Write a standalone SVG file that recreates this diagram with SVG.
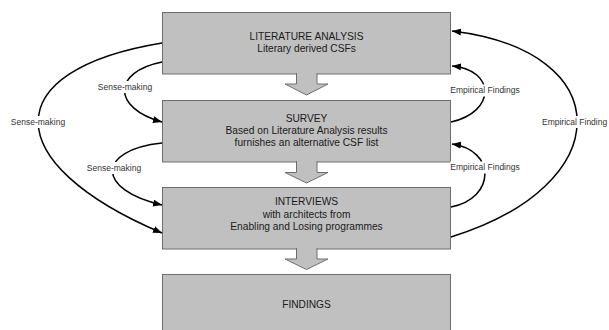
<svg xmlns="http://www.w3.org/2000/svg" width="609" height="330" viewBox="0 0 609 330">
  <style>
    .box { fill: #c0c0c0; stroke: #6e6e6e; stroke-width: 1; }
    .flow { fill: #c0c0c0; stroke: #6e6e6e; stroke-width: 1; }
    .title { font-family: "Liberation Sans", Arial, sans-serif; font-size: 10.2px; fill: #1a1a1a; text-anchor: middle; }
    .link { fill: none; stroke: #000; stroke-width: 1.5; }
    .lbl { font-family: "Liberation Sans", Arial, sans-serif; font-size: 8.5px; fill: #333; text-anchor: middle; }
    .bg { fill: #fff; }
  </style>
  <defs>
    <marker id="arrow" markerUnits="userSpaceOnUse" markerWidth="10" markerHeight="8" refX="9" refY="3.5" orient="auto">
      <path d="M0,0 L9,3.5 L0,7 z" fill="#000"/>
    </marker>
  </defs>
  <rect width="609" height="330" fill="#fff"/>

  <!-- process boxes with block arrows between them -->
  <g id="literature-analysis">
    <rect class="box" x="162.5" y="12.5" width="288" height="61.5"/>
    <text class="title" x="306.5" y="40">LITERATURE ANALYSIS</text>
    <text class="title" x="306.5" y="52">Literary derived CSFs</text>
  </g>
  <g id="survey">
    <rect class="box" x="162.5" y="100.5" width="288" height="61.5"/>
    <text class="title" x="306.5" y="122">SURVEY</text>
    <text class="title" x="306.5" y="134">Based on Literature Analysis results</text>
    <text class="title" x="306.5" y="146">furnishes an alternative CSF list</text>
  </g>
  <g id="interviews">
    <rect class="box" x="162.5" y="187.5" width="288" height="61.5"/>
    <text class="title" x="306.5" y="205">INTERVIEWS</text>
    <text class="title" x="306.5" y="217.5">with architects from</text>
    <text class="title" x="306.5" y="230">Enabling and Losing programmes</text>
  </g>
  <g id="findings">
    <rect class="box" x="162.5" y="274.5" width="288" height="62"/>
    <text class="title" x="306.5" y="308">FINDINGS</text>
  </g>

  <g id="flow-arrows">
    <path class="flow" d="M296.5,73 V84 H285 L306.5,95 L328,84 H317 V73"/>
    <path class="flow" d="M296.5,161 V172.5 H285 L306.5,183 L328,172.5 H317 V161"/>
    <path class="flow" d="M296.5,248 V259 H285 L306.5,269.5 L328,259 H317 V248"/>
  </g>

  <!-- feedback connectors -->
  <g id="connectors">
    <path class="link" d="M162,43 C -3,70 -3,163 162,233" marker-end="url(#arrow)"/>
    <path class="link" d="M162,62 C 112,72 112,108 162,122" marker-end="url(#arrow)"/>
    <path class="link" d="M162,143 C 96,150 96,190 162,205" marker-end="url(#arrow)"/>
    <path class="link" d="M451,122 C 496,112 496,70 452,66" marker-end="url(#arrow)"/>
    <path class="link" d="M451,207 C 496,198 496,150 452,144" marker-end="url(#arrow)"/>
    <path class="link" d="M451,237 C 619,185 619,51 452,31" marker-end="url(#arrow)"/>

    <rect class="bg" x="10" y="116" width="56" height="12"/>
    <text class="lbl" x="38" y="125">Sense-making</text>
    <rect class="bg" x="97" y="81" width="56" height="12"/>
    <text class="lbl" x="125" y="90">Sense-making</text>
    <rect class="bg" x="86" y="162" width="56" height="12"/>
    <text class="lbl" x="114" y="171">Sense-making</text>

    <rect class="bg" x="450" y="84.5" width="71" height="12"/>
    <text class="lbl" x="485" y="93">Empirical Findings</text>
    <rect class="bg" x="450" y="161.5" width="71" height="12"/>
    <text class="lbl" x="485" y="170">Empirical Findings</text>
    <rect class="bg" x="541" y="116" width="68" height="12"/>
    <text class="lbl" x="542" y="124.5" style="text-anchor:start">Empirical Finding</text>
  </g>
</svg>
